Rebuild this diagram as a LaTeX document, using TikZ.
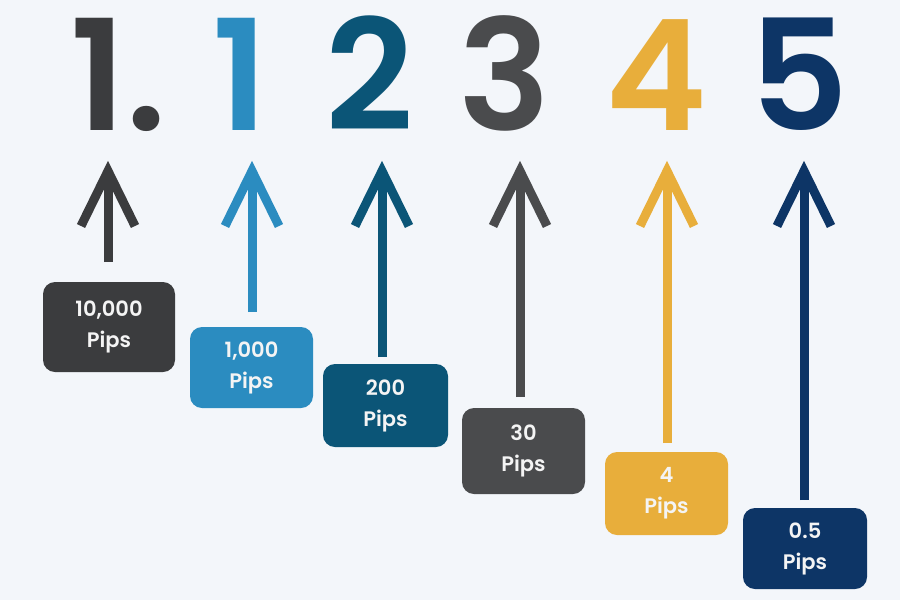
\documentclass[tikz,border=0pt]{standalone}
\usepackage{fontspec}
\setmainfont{Poppins}[UprightFont=* Medium, BoldFont=* SemiBold]
\definecolor{bg}{HTML}{F3F6FA}
\definecolor{cdark}{HTML}{3B3C3E}
\definecolor{cblue}{HTML}{2B8CC0}
\definecolor{cteal}{HTML}{0B5577}
\definecolor{cgray}{HTML}{4A4B4D}
\definecolor{cgold}{HTML}{E8AE3B}
\definecolor{cnavy}{HTML}{0D3566}
\definecolor{ctext}{HTML}{F4F4F4}
\tikzset{
  bigdigit/.style={anchor=base, inner sep=0pt, font=\fontsize{154}{154}\selectfont\bfseries},
  pipbox/.style={draw=none, rounded corners=12pt, align=center, text=ctext, inner sep=0pt,
     font=\fontsize{21}{31}\selectfont\bfseries},
  shaft/.style={line width=9pt},
  barb/.style={line width=9pt, line join=miter, line cap=butt}
}
\begin{document}
\begin{tikzpicture}[x=1pt,y=-1pt]
\fill[bg] (0,0) rectangle (900,600);
\useasboundingbox (0,0) rectangle (900,600);

% big digits
\node[bigdigit, text=cdark] (d1) at (118.5,130) {1.};
\node[bigdigit, text=cblue] (d2) at (240,130) {1};
\node[bigdigit, text=cteal] (d3) at (370,130) {2};
\node[bigdigit, text=cgray] (d4) at (505,130) {3};
\node[bigdigit, text=cgold] (d5) at (656,130) {4};
\node[bigdigit, text=cnavy] (d6) at (799,130) {5};

% boxes
\node[pipbox, fill=cdark, minimum width=132pt, minimum height=90pt] (b1) at (109,327) {10,000\\Pips};
\node[pipbox, fill=cblue, minimum width=123pt, minimum height=81pt] (b2) at (251.5,367.5) {1,000\\Pips};
\node[pipbox, fill=cteal, minimum width=125pt, minimum height=83pt] (b3) at (385.5,405.5) {200\\Pips};
\node[pipbox, fill=cgray, minimum width=123pt, minimum height=86pt] (b4) at (523.5,451) {30\\Pips};
\node[pipbox, fill=cgold, minimum width=123pt, minimum height=83pt] (b5) at (666.5,493.5) {4\\Pips};
\node[pipbox, fill=cnavy, minimum width=124pt, minimum height=81pt] (b6) at (805,548.5) {0.5\\Pips};

% arrows
\foreach \i/\x/\yb/\c in {1/108/262/cdark, 2/252/312/cblue, 3/382/357/cteal, 4/520/397/cgray, 5/667/443/cgold, 6/804/500/cnavy}{
  \coordinate (s\i) at (\x,\yb);
  \coordinate (t\i) at (\x,171);
  \draw[shaft, \c] (s\i) -- (t\i);
  \draw[barb, \c] ([shift={(-27,55)}]t\i) -- (t\i) -- ([shift={(27,55)}]t\i);
}
\end{tikzpicture}
\end{document}
